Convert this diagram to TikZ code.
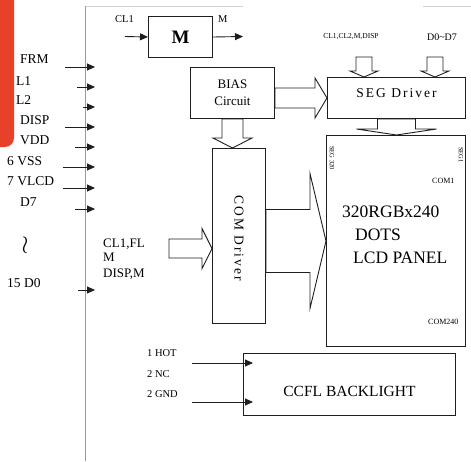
\documentclass[tikz,border=0pt]{standalone}
\usepackage{fontspec}
\setmainfont{Liberation Serif}
\newfontfamily\spacedfont[LetterSpace=15]{Liberation Serif}
\usetikzlibrary{arrows.meta, calc}
\definecolor{tabcolor}{HTML}{E8412A}
\definecolor{inkcolor}{HTML}{1E1E1E}
\definecolor{railcolor}{HTML}{9A9A9A}

\begin{document}
\begin{tikzpicture}[
    x=1pt, y=-1pt,
    block/.style={rectangle, draw=inkcolor, line width=1pt, inner sep=0pt, anchor=north west},
    pinlabel/.style={inner sep=0pt, anchor=base west, font=\fontsize{13.5}{15}\selectfont},
    note/.style={inner sep=0pt, anchor=base west, font=\fontsize{10.5}{12}\selectfont},
    smalltext/.style={inner sep=0pt, font=\fontsize{8}{9}\selectfont},
    lcdtext/.style={inner sep=0pt, anchor=base west, font=\fontsize{17.5}{19}\selectfont},
    spacedlbl/.style={inner sep=0pt, font=\spacedfont\fontsize{13.5}{15}\selectfont},
    wire/.style={-{Triangle[length=8pt, width=7pt]}, line width=0.9pt, draw=inkcolor},
    fat/.style n args={3}{draw=inkcolor, line width=0.9pt, line join=miter,
        to path={let \p1=(\tikztostart), \p2=(\tikztotarget),
            \n1={atan2(\y2-\y1,\x2-\x1)}, \n2={veclen(\x2-\x1,\y2-\y1)} in
            [shift={(\p1)}, rotate=\n1]
            (0,#1) -- ({\n2-#3},#1) -- ({\n2-#3},#2) -- (\n2,0)
            -- ({\n2-#3},-#2) -- ({\n2-#3},-#1) -- (0,-#1) -- cycle}}
]
\useasboundingbox (0,0) rectangle (471,461);
\fill[tabcolor, rounded corners=9pt] (-20,-20) rectangle (14,147);

% connector rail and frame
\draw[gray!35, line width=0.8pt] (85,6) -- (243,6);
\draw[gray!35, line width=0.8pt] (423,6) -- (471,6);
\draw[railcolor, line width=0.9pt] (85,6) -- (85,461);
\coordinate (bus) at (95,0);

% interface pins
\node[pinlabel] (frm) at (20,63) {FRM};
\node[pinlabel] (cla) at (16,85) {L1};
\node[pinlabel] (clb) at (16,104) {L2};
\node[pinlabel] (disp) at (20,124) {DISP};
\node[pinlabel] (vdd) at (20,144) {VDD};
\node[pinlabel] (vss) at (7,165) {6 VSS};
\node[pinlabel] (vlcd) at (7,185) {7 VLCD};
\node[pinlabel] (dseven) at (20,206) {D7};
\node[inner sep=0pt, font=\fontsize{24}{24}\selectfont] (gap) at (25,245) {$\wr$};
\node[pinlabel] (dzero) at (7,287) {15 D0};

\coordinate (frm-in) at (65,67);
\coordinate (cla-in) at (77,87);
\coordinate (clb-in) at (83,107);
\coordinate (disp-in) at (65,127);
\coordinate (vdd-in) at (75,147);
\coordinate (vss-in) at (63,167);
\coordinate (vlcd-in) at (63,188);
\coordinate (dseven-in) at (75,209);
\coordinate (dzero-in) at (78,290);
\draw[wire] (frm-in) -- (frm-in -| bus);
\draw[wire] (cla-in) -- (cla-in -| bus);
\draw[wire] (clb-in) -- (clb-in -| bus);
\draw[wire] (disp-in) -- (disp-in -| bus);
\draw[wire] (vdd-in) -- (vdd-in -| bus);
\draw[wire] (vss-in) -- (vss-in -| bus);
\draw[wire] (vlcd-in) -- (vlcd-in -| bus);
\draw[wire] (dseven-in) -- (dseven-in -| bus);
\draw[wire] (dzero-in) -- (dzero-in -| bus);

% blocks
\node[block, minimum width=64pt, minimum height=41pt, font=\bfseries\fontsize{19}{20}\selectfont] (m) at (148,16) {M};
\node[block, minimum width=84pt, minimum height=51pt, align=center, font=\fontsize{13}{17}\selectfont] (bias) at (190,67) {BIAS\\Circuit};
\node[block, minimum width=138pt, minimum height=41pt,
      label={[spacedlbl, yshift=5pt]center:SEG Driver}] (seg) at (327,77) {};
\node[block, minimum width=53pt, minimum height=175pt,
      label={[spacedlbl, rotate=-90, xshift=2pt]center:COM Driver}] (com) at (212,148) {};
\node[block, minimum width=139pt, minimum height=211pt] (lcd) at (326,135) {};
\node[block, minimum width=212pt, minimum height=62pt,
      label={[inner sep=0pt, font=\fontsize{15.5}{17}\selectfont, yshift=-7pt]center:CCFL BACKLIGHT}] (ccfl) at (243,353) {};

% M block signals
\node[note] (clk) at (115,22) {CL1};
\node[note] (mout) at (218,22) {M};
\coordinate (clk-in) at (125,36.5);
\coordinate (m-out) at (243,36.5);
\draw[wire] (clk-in) -- (m.west);
\draw[wire] (m.east) -- (m-out);

% SEG driver inputs
\node[inner sep=0pt, font=\fontsize{7.5}{9}\selectfont] (segsig) at (351,37) {CL1,CL2,M,DISP};
\node[inner sep=0pt, font=\fontsize{10}{12}\selectfont] (dbus) at (442,37) {D0\textasciitilde D7};
\coordinate (segin-a) at (364,57);
\coordinate (segin-b) at (435,57);
\draw[fat={8}{14}{6}] (segin-a) to (segin-a |- seg.north);
\draw[fat={8}{14}{6}] (segin-b) to (segin-b |- seg.north);

% COM driver inputs
\node[pinlabel, font=\fontsize{13}{15}\selectfont] (ctla) at (103,247) {CL1,FL};
\node[pinlabel, font=\fontsize{13}{15}\selectfont] (ctlb) at (103,261) {M};
\node[pinlabel, font=\fontsize{13}{15}\selectfont] (ctlc) at (103,277) {DISP,M};
\coordinate (ctl-in) at (169,248.5);
\draw[fat={9.5}{20}{10}] (ctl-in) to (ctl-in -| com.west);

% block arrows
\draw[fat={10}{20}{12}] (bias.east |- seg.west) to (seg.west);
\draw[fat={10.5}{19.5}{10}] (bias.south) to (bias.south |- com.north);
\draw[fat={19}{40}{6}] (seg.south) to (seg.south |- lcd.north);
\draw[fat={31.5}{67.5}{16}] (com.east |- lcd.west) to (lcd.west);

% panel texts
\node[smalltext, font=\fontsize{6.5}{8}\selectfont, rotate=-90] (segfirst) at (332,158) {SEG 320};
\node[smalltext, font=\fontsize{6.5}{8}\selectfont, rotate=-90] (seglast) at (461,155) {SEG1};
\node[smalltext, anchor=base west] (comone) at (432,183) {COM1};
\node[smalltext, anchor=base west] (comlast) at (428,324) {COM240};
\node[lcdtext] (res) at (342,217) {320RGBx240};
\node[lcdtext] (dots) at (355,240) {DOTS};
\node[lcdtext] (panel) at (353,263) {LCD PANEL};

% backlight
\node[note] (hot) at (147,356) {1 HOT};
\node[note] (nc) at (147,377) {2 NC};
\node[note] (gnd) at (147,397) {2 GND};
\coordinate (hot-in) at (192,363);
\coordinate (gnd-in) at (192,402);
\draw[wire] (hot-in) -- ($(hot-in -| ccfl.west)+(10,0)$);
\draw[wire] (gnd-in) -- ($(gnd-in -| ccfl.west)+(10,0)$);
\end{tikzpicture}
\end{document}
